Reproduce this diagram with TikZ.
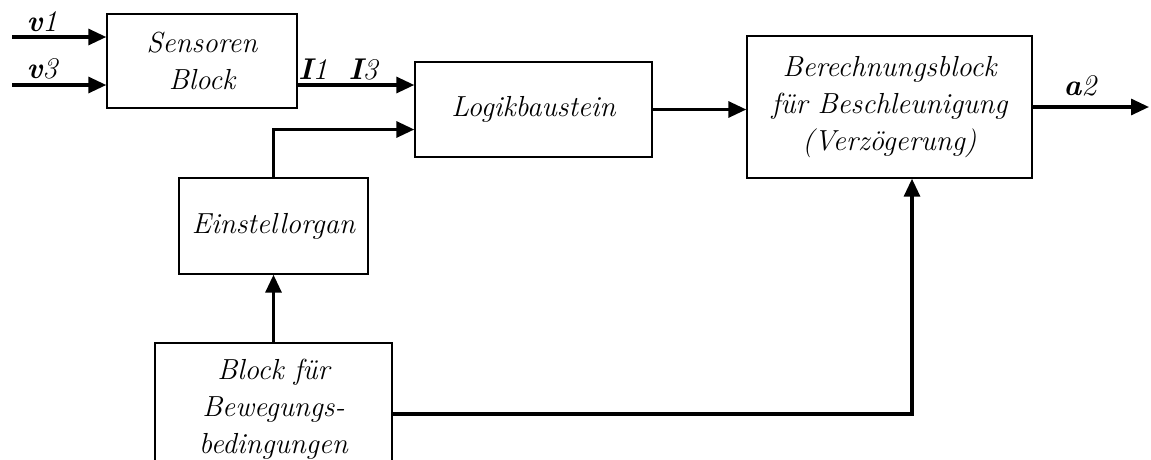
\documentclass[tikz,border=0pt]{standalone}
\usepackage{tikz}
\usetikzlibrary{arrows.meta}

\begin{document}
\begin{tikzpicture}[x=1pt, y=-1pt,
    blk/.style={draw, line width=1.4pt, align=center, inner sep=2pt,
        font=\fontsize{29}{37}\selectfont\itshape},
    arr/.style={line width=3.2pt, -{Triangle[length=18pt,width=16pt]}},
    sig/.style={font=\fontsize{30}{32}\selectfont\itshape, inner sep=0pt}]
    \useasboundingbox (0,0) rectangle (1151,459);

    % Blocks
    \node[blk, minimum width=190pt, minimum height=94pt] (sensor) at (202,61)
        {Sensoren\\Block};
    \node[blk, minimum width=237pt, minimum height=95pt] (logik) at (533.5,109.5)
        {Logikbaustein};
    \node[blk, minimum width=285pt, minimum height=142pt] (berech) at (889.5,107)
        {Berechnungsblock\\f\"ur Beschleunigung\\(Verz\"ogerung)};
    \node[blk, minimum width=189pt, minimum height=96pt] (einst) at (273.5,226)
        {Einstellorgan};
    \node[blk, minimum width=237pt, minimum height=127pt, text depth=0pt] (beweg) at (273.5,406.5)
        {Block f\"ur\\Bewegungs-\\bedingungen};

    % Inputs
    \coordinate (v1in) at (12,37);
    \coordinate (v3in) at (12,85);
    \draw[arr] (v1in) -- (v1in -| sensor.west);
    \draw[arr] (v3in) -- (v3in -| sensor.west);
    \node[sig] (lv1) at (42,22) {{\bfseries v}1};
    \node[sig] (lv3) at (42,69) {{\bfseries v}3};

    % Sensor -> Logik
    \coordinate (sout) at ([yshift=-24pt]sensor.east);
    \draw[arr] (sout) -- (sout -| logik.west);
    \node[sig] (li) at (338,70) {{\bfseries I}1\ \ {\bfseries I}3};

    % Einstellorgan -> Logik
    \coordinate (lin) at ([yshift=-20pt]logik.west);
    \draw[arr] (einst.north) |- (lin);

    % Logik -> Berechnung
    \draw[arr] (logik.east) -- (logik.east -| berech.west);

    % Output
    \coordinate (a2out) at (1149,107);
    \draw[arr] (berech.east) -- (a2out);
    \node[sig] (la2) at (1080,86) {{\bfseries a}2};

    % Bewegungsbedingungen
    \draw[arr] (beweg.north) -- (einst.south);
    \coordinate (bout) at ([yshift=-7.5pt]beweg.east);
    \coordinate (bin) at ([xshift=22.5pt]berech.south);
    \draw[arr] (bout) -| (bin);
\end{tikzpicture}
\end{document}
